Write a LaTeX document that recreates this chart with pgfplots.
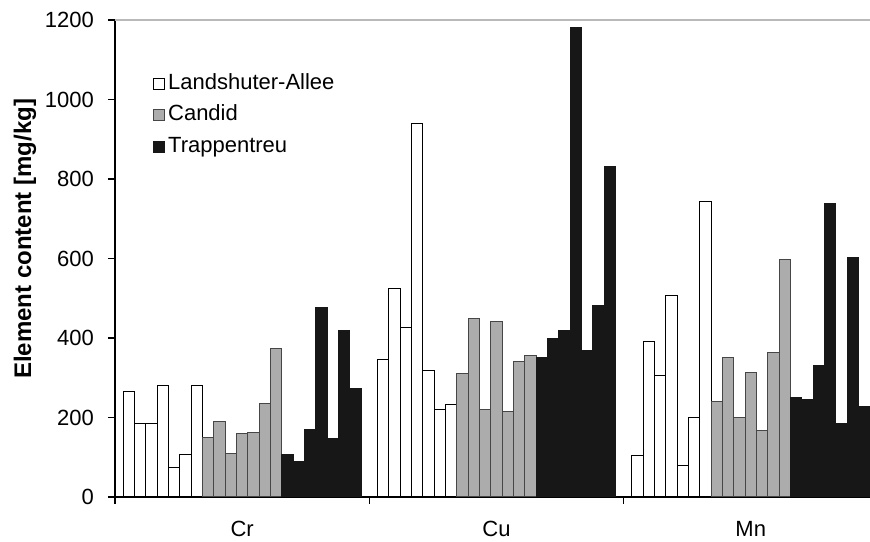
\documentclass[border=0pt]{standalone}
\usepackage{pgfplots}
\pgfplotsset{compat=1.18}
\usepackage{fontspec}
\setmainfont{Liberation Sans}
\definecolor{barwhite}{RGB}{255,255,255}
\definecolor{bargray}{RGB}{171,172,171}
\definecolor{bargrayedge}{RGB}{70,70,70}
\definecolor{barblack}{RGB}{23,23,23}
\definecolor{topline}{RGB}{185,185,185}
\begin{document}
\begin{tikzpicture}
\begin{axis}[
  scale only axis, width=377.5pt, height=238.5pt,
  xmin=-0.72, xmax=65.9, ymin=0, ymax=1200,
  axis lines=left, axis line style={-, black, line width=0.6pt},
  tick align=outside,
  ytick={0,200,...,1200},
  xtick={10.5,32.94,55.38}, xticklabels={Cr,Cu,Mn},
  x tick style={draw=none},
  y tick style={black, line width=0.6pt},
  major tick length=3.5pt,
  tick label style={font=\fontsize{11}{13}\selectfont},
  yticklabel shift=3.5pt,
  xticklabel shift=5pt,
  /pgf/number format/assume math mode=true,
  /pgf/number format/1000 sep={},
  ylabel={Element content [mg/kg]},
  ylabel style={font=\bfseries\fontsize{12}{14}\selectfont, at={(rel axis cs:-0.1192,0.541)}, anchor=center},
  legend style={at={(0.05,0.895)}, anchor=north west, draw=none, fill=none, inner sep=0pt, row sep=2.25pt,
    font=\fontsize{11}{13}\selectfont, nodes={inner sep=1.5pt, text height=8pt, text depth=2.5pt}},
  legend cell align=left,
  legend image code/.code={\draw[#1] (0pt,-2.75pt) rectangle (5.5pt,2.75pt);},
  clip=false,
]
\addplot[ybar, bar width=1, bar shift=0pt, fill=barwhite, draw=black, line width=0.5pt] coordinates {
 (0.5,266) (1.5,185) (2.5,184) (3.5,280) (4.5,75) (5.5,108) (6.5,280)
 (22.94,346) (23.94,524) (24.94,427) (25.94,940) (26.94,318) (27.94,221) (28.94,232)
 (45.38,105) (46.38,390) (47.38,306) (48.38,507) (49.38,80) (50.38,200) (51.38,743)
};
\addlegendentry{Landshuter-Allee}
\addplot[ybar, bar width=1, bar shift=0pt, fill=bargray, draw=bargrayedge, line width=0.5pt] coordinates {
 (7.5,149) (8.5,191) (9.5,109) (10.5,159) (11.5,163) (12.5,234) (13.5,374)
 (29.94,310) (30.94,450) (31.94,221) (32.94,441) (33.94,216) (34.94,340) (35.94,357)
 (52.38,239) (53.38,351) (54.38,200) (55.38,313) (56.38,167) (57.38,363) (58.38,598)
};
\addlegendentry{Candid}
\addplot[ybar, bar width=1, bar shift=0pt, fill=barblack, draw=barblack, line width=0.5pt] coordinates {
 (14.5,108) (15.5,90) (16.5,169) (17.5,477) (18.5,146) (19.5,419) (20.5,272)
 (36.94,350) (37.94,399) (38.94,418) (39.94,1181) (40.94,368) (41.94,483) (42.94,832)
 (59.38,251) (60.38,245) (61.38,331) (62.38,738) (63.38,184) (64.38,603) (65.38,228)
};
\addlegendentry{Trappentreu}
\draw[topline, line width=1pt] (rel axis cs:0,1) -- (rel axis cs:1,1);
\draw[black, line width=0.6pt] (axis cs:-0.72,0) -- ++(0pt,-3.5pt);
\draw[black, line width=0.6pt] (axis cs:21.72,0) -- ++(0pt,-3.5pt);
\draw[black, line width=0.6pt] (axis cs:44.16,0) -- ++(0pt,-3.5pt);
\coordinate (ll) at (rel axis cs:0,0);
\coordinate (ur) at (rel axis cs:1,1);
\end{axis}
\pgfresetboundingbox
\path ([shift={(-57.5pt,-22.5pt)}]ll) rectangle ([shift={(0pt,10pt)}]ur);
\end{tikzpicture}
\end{document}
